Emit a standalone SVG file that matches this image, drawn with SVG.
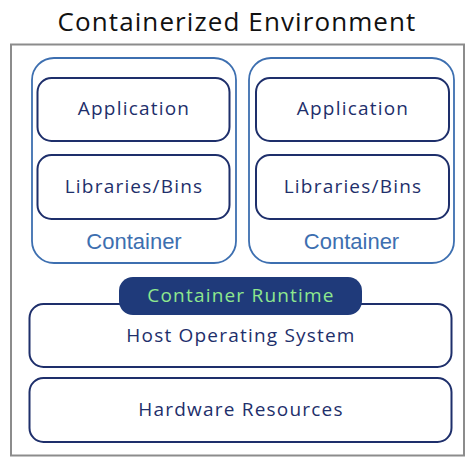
<svg xmlns="http://www.w3.org/2000/svg" width="474" height="467" viewBox="0 0 474 467">
<style>
text{font-family:"Open Sans","Liberation Sans",sans-serif;text-anchor:middle}
.title{font-size:26px;fill:#111;letter-spacing:1.1px}
.lbl{font-size:19px;fill:#1e2f6b;letter-spacing:1.2px}
.ctr{font-family:"Liberation Sans",Arial,sans-serif;font-size:22px;fill:#3d6fb0}
.rt{font-size:19px;fill:#8ee88e;letter-spacing:1.2px}
.box{fill:#fff;stroke:#1e2f6b;stroke-width:2}
.cont{fill:none;stroke:#3d6fb0;stroke-width:1.8}
</style>
<rect width="474" height="467" fill="#fff"/>
<text class="title" x="237" y="31">Containerized Environment</text>
<g id="env"><rect x="11" y="44.5" width="453" height="411" fill="#fff" stroke="#8c8c8c" stroke-width="2"/></g>
<g id="container1">
<rect class="cont" x="32" y="58" width="204" height="205" rx="22"/>
<text class="ctr" x="134" y="249">Container</text>
</g>
<g id="app1"><rect class="box" x="37.5" y="78" width="192" height="63" rx="14"/><text class="lbl" x="134" y="115">Application</text></g>
<g id="libs1"><rect class="box" x="37.5" y="155" width="192" height="64" rx="14"/><text class="lbl" x="134" y="193">Libraries/Bins</text></g>
<g id="container2">
<rect class="cont" x="249" y="58" width="205" height="205" rx="22"/>
<text class="ctr" x="351.5" y="249">Container</text>
</g>
<g id="app2"><rect class="box" x="256" y="78" width="193" height="63" rx="14"/><text class="lbl" x="353" y="115">Application</text></g>
<g id="libs2"><rect class="box" x="256" y="155" width="193" height="64" rx="14"/><text class="lbl" x="353" y="193">Libraries/Bins</text></g>
<g id="hostos"><rect class="box" x="29.5" y="304" width="422" height="63" rx="14"/><text class="lbl" x="241" y="342">Host Operating System</text></g>
<g id="runtime"><rect x="119" y="277" width="243" height="38" rx="14" fill="#1f3a7a"/><text class="rt" x="241" y="302">Container Runtime</text></g>
<g id="hardware"><rect class="box" x="29.5" y="378" width="422" height="64" rx="14"/><text class="lbl" x="241" y="416">Hardware Resources</text></g>
<g id="connectors"></g>
</svg>
